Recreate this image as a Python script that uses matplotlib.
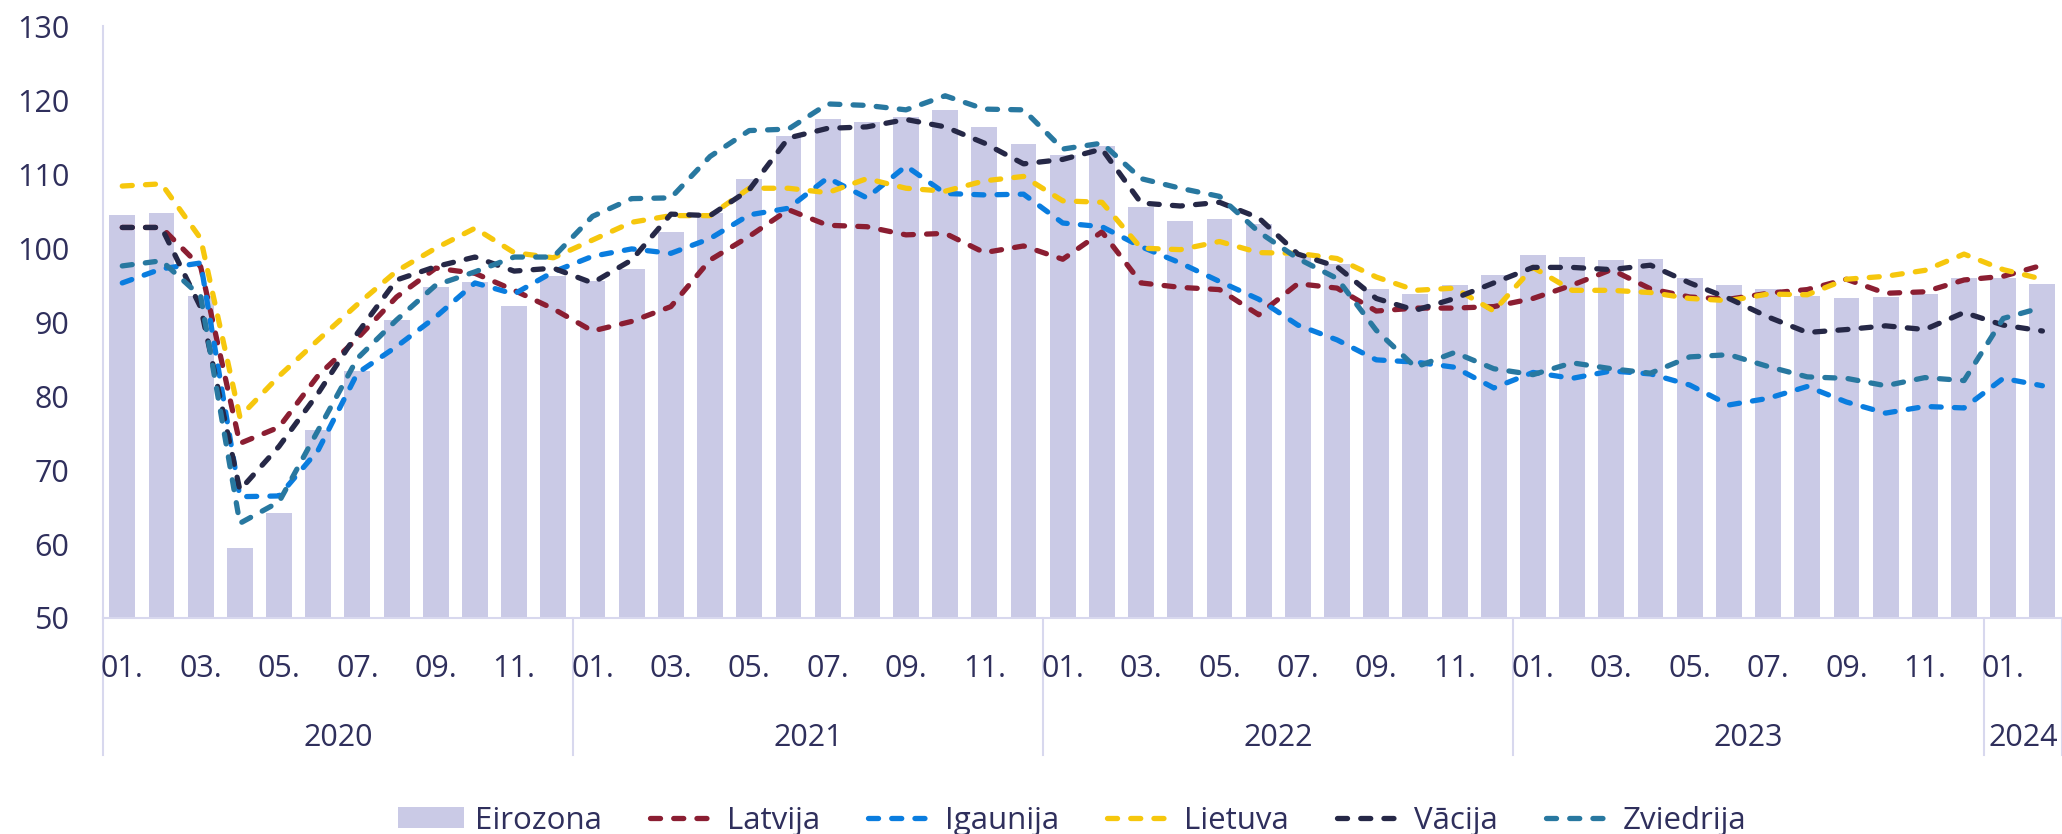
import matplotlib
matplotlib.use("Agg")
import matplotlib.pyplot as plt
import numpy as np

plt.rcParams["font.family"] = ["Open Sans", "DejaVu Sans"]

#DATA (monthly, 2020-01 .. 2024-02)
years = ["2020", "2021", "2022", "2023", "2024"]
month_labels = ["01.", "03.", "05.", "07.", "09.", "11."]

eirozona = [104.5, 104.8, 93.5, 59.5, 64.2, 75.4, 83.4, 90.3, 94.8, 95.4, 92.2, 96.3,
            95.5, 97.2, 102.2, 104.8, 109.4, 115.2, 117.4, 117.0, 117.7, 118.7, 116.4, 114.1,
            112.6, 113.8, 105.5, 103.7, 104.0, 103.2, 98.9, 97.9, 94.5, 93.8, 95.0, 96.4,
            99.1, 98.8, 98.4, 98.5, 96.0, 95.0, 94.5, 93.5, 93.3, 93.4, 93.8, 96.0,
            95.9, 95.1]
latvija = [102.8, 102.8, 97.5, 73.6, 75.8, 82.8, 87.8, 93.4, 97.3, 96.6, 94.3, 91.8,
           88.8, 90.1, 92.1, 98.4, 101.6, 105.2, 103.1, 102.9, 101.8, 102.0, 99.4, 100.3,
           98.5, 102.2, 95.3, 94.7, 94.4, 91.0, 95.2, 94.6, 91.5, 91.9, 91.9, 92.1,
           93.2, 95.0, 97.1, 94.5, 93.4, 93.1, 93.9, 94.4, 95.8, 93.9, 94.1, 95.7,
           96.2, 97.7]
igaunija = [95.3, 97.2, 98.0, 66.4, 66.5, 72.7, 83.1, 86.7, 90.7, 95.3, 93.8, 96.8,
            98.9, 99.9, 99.3, 101.3, 104.5, 105.4, 109.5, 106.8, 111.1, 107.4, 107.2, 107.3,
            103.4, 102.9, 100.2, 98.0, 95.5, 93.1, 89.6, 87.6, 84.9, 84.6, 83.9, 81.1,
            83.2, 82.4, 83.4, 83.0, 81.5, 78.8, 79.7, 81.3, 79.2, 77.7, 78.6, 78.4,
            82.4, 81.4]
lietuva = [108.4, 108.7, 101.3, 77.2, 82.7, 87.6, 92.4, 96.9, 100.0, 102.7, 99.4, 98.7,
           101.1, 103.5, 104.4, 104.4, 108.1, 108.1, 107.5, 109.4, 108.1, 107.7, 109.1, 109.7,
           106.4, 106.2, 100.0, 99.8, 100.9, 99.4, 99.3, 98.6, 96.1, 94.3, 94.6, 91.5,
           97.4, 94.3, 94.3, 94.0, 93.2, 92.9, 93.8, 93.7, 95.8, 96.2, 97.0, 99.2,
           97.1, 95.8]
vacija = [102.8, 102.8, 92.0, 67.3, 73.2, 80.4, 88.5, 95.7, 97.5, 98.8, 96.9, 97.3,
          95.3, 98.4, 104.6, 104.4, 107.9, 114.9, 116.2, 116.4, 117.4, 116.4, 114.2, 111.4,
          112.0, 113.4, 106.1, 105.7, 106.2, 104.1, 99.2, 97.5, 93.2, 91.6, 93.2, 95.3,
          97.4, 97.4, 97.1, 97.7, 95.3, 93.2, 90.7, 88.6, 89.0, 89.5, 89.0, 91.3,
          89.6, 88.8]
zviedrija = [97.6, 98.3, 93.5, 62.8, 65.7, 75.4, 85.1, 90.3, 95.0, 96.8, 98.8, 98.8,
             104.3, 106.7, 106.8, 112.4, 115.9, 116.1, 119.5, 119.3, 118.7, 120.6, 118.8, 118.7,
             113.4, 114.2, 109.4, 108.1, 107.0, 102.2, 98.6, 95.9, 88.9, 83.9, 85.9, 83.7,
             82.9, 84.5, 83.7, 83.1, 85.3, 85.6, 84.0, 82.6, 82.4, 81.4, 82.5, 82.1,
             90.5, 92.0]

TEXT = "#2f2f5c"
GRID = "#d8d8ee"
series = [("Latvija", latvija, "#8b1e32"),
          ("Igaunija", igaunija, "#0a7ddf"),
          ("Lietuva", lietuva, "#f6c70d"),
          ("Vācija", vacija, "#262847"),
          ("Zviedrija", zviedrija, "#2878a0")]

x = np.arange(len(eirozona))

fig = plt.figure(figsize=(20.62, 8.34), dpi=100)
ax = fig.add_axes([0.0498, 0.259, 0.9502, 0.7095])

ax.bar(x, np.array(eirozona) - 50, bottom=50, width=0.66, color="#cacae6", label="Eirozona", zorder=1)
for name, vals, col in series:
    ax.plot(x, vals, color=col, lw=3.8, linestyle=(0, (1.9, 2.5)),
            dash_capstyle="round", solid_joinstyle="round", label=name, zorder=3)

ax.set_xlim(-0.5, len(x) - 0.5)
ax.set_ylim(50, 130)
ax.set_yticks(range(50, 131, 10))
ax.tick_params(axis="y", length=0, pad=24, labelsize=22, labelcolor=TEXT)
ax.set_xticks([])

for s in ["top", "right"]:
    ax.spines[s].set_visible(False)
for s in ["left", "bottom"]:
    ax.spines[s].set_color(GRID)
    ax.spines[s].set_linewidth(1.5)

#Month and year labels under the axis
trans = ax.get_xaxis_transform()
for i in range(0, len(x), 2):
    ax.text(i, -0.087, month_labels[(i % 12) // 2], transform=trans, ha="center", va="center",
            fontsize=22, color=TEXT)
bounds = [-0.5, 11.5, 23.5, 35.5, 47.5, len(x) - 0.5]
for b in bounds:
    ax.plot([b, b], [0, -0.2315], transform=trans, color=GRID, lw=1.5, clip_on=False)
for k, yr in enumerate(years):
    ax.text((bounds[k] + bounds[k + 1]) / 2, -0.2035, yr, transform=trans, ha="center", va="center",
            fontsize=22, color=TEXT)

handles, labels = ax.get_legend_handles_labels()
order = [labels.index("Eirozona")] + [labels.index(n) for n, _, _ in series]
leg = fig.legend([handles[i] for i in order], [labels[i] for i in order], loc="center",
                 bbox_to_anchor=(0.52, 0.016), ncol=6, frameon=False, fontsize=22.5,
                 handlelength=2.1, handleheight=0.65, handletextpad=0.35, columnspacing=1.55)
for t in leg.get_texts():
    t.set_color(TEXT)

plt.savefig("out.png", dpi=100)
